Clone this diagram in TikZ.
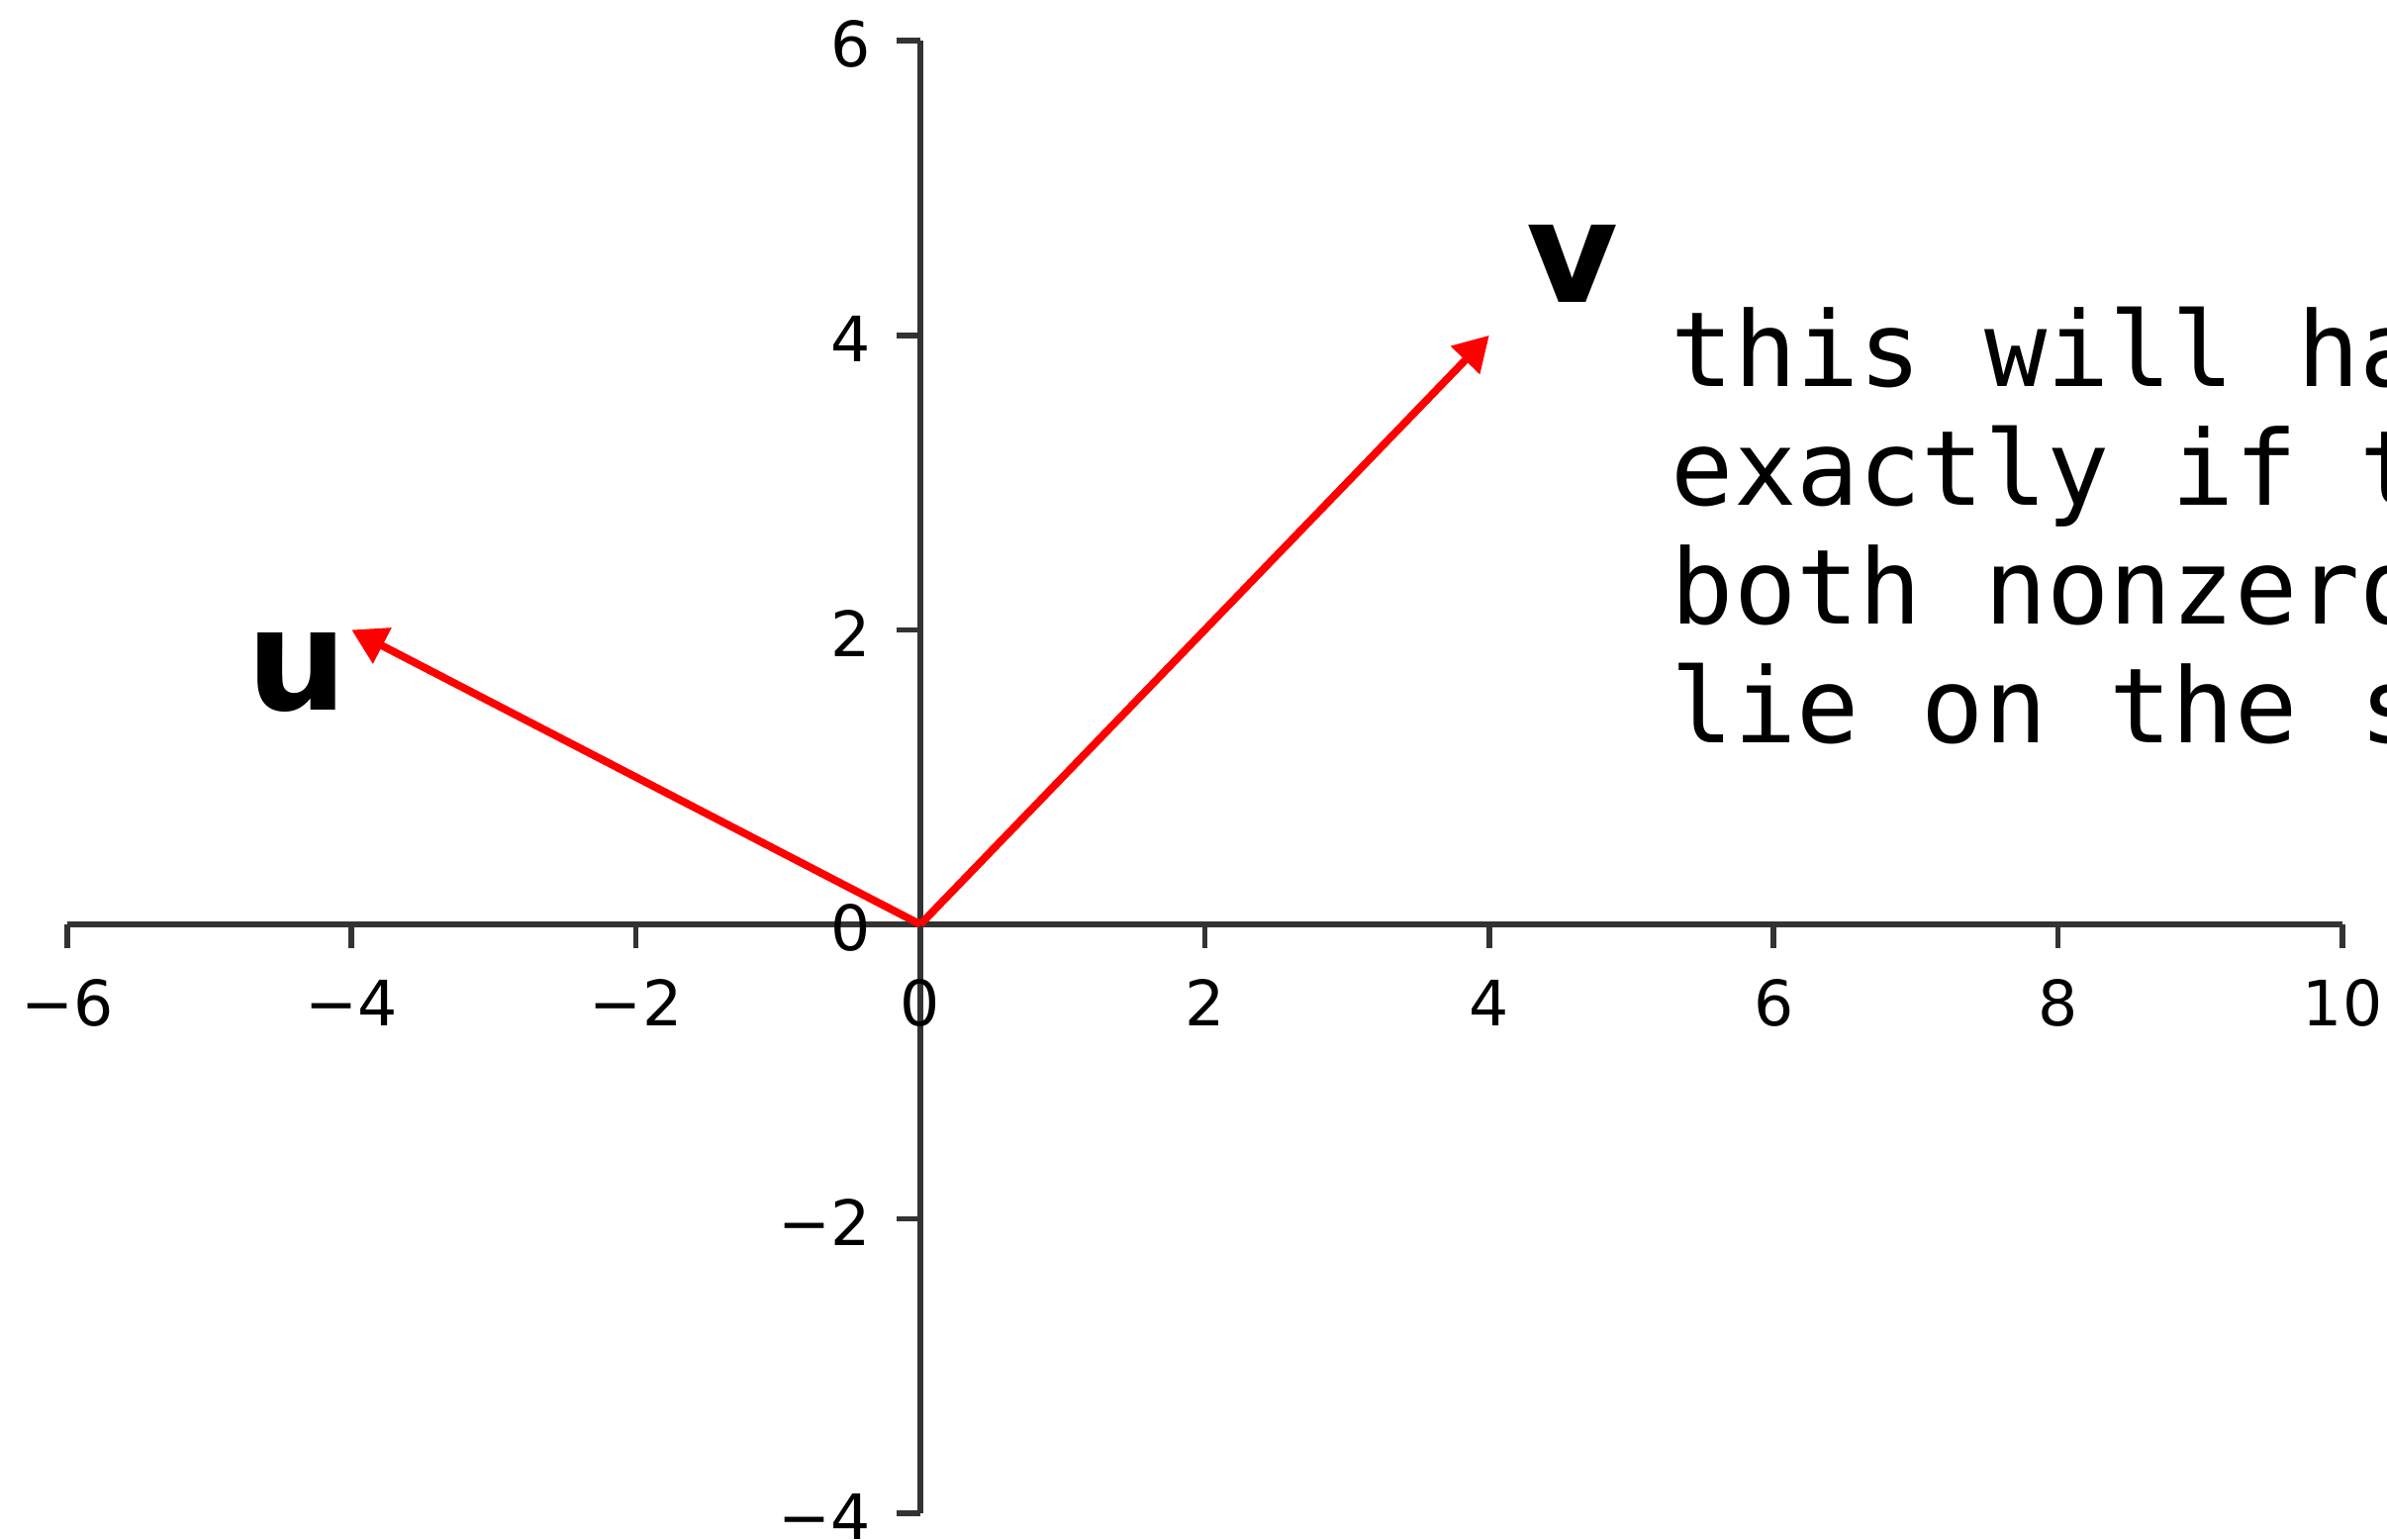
\documentclass[tikz,border=0pt]{standalone}
\usepackage{fontspec}
\setmainfont{DejaVu Sans}
\newfontfamily\codefont{DejaVu Sans Mono}
\usetikzlibrary{arrows.meta}
\definecolor{veccol}{HTML}{FF0000}
\definecolor{axiscol}{HTML}{333333}

\begin{document}
\begin{tikzpicture}[
  x=1.437cm, y=1.488cm,
  >={Triangle[length=0.35cm,width=0.39cm]},
  spine/.style={axiscol, line width=1.9pt},
  tickmark/.style={axiscol, line width=1.6pt},
  ticklabel/.style={inner sep=0pt, font=\fontsize{18}{22}\selectfont},
  vec/.style={->, veccol, line width=2.2pt},
  veclabel/.style={inner sep=0pt, anchor=base, font=\fontsize{40.6}{48}\selectfont\bfseries}
]
\useasboundingbox (-6.472,-4.180) rectangle (10.313,6.277);
\clip (-6.472,-4.180) rectangle (10.313,6.277);

% axes
\draw[spine] (-6,0) -- (10,0);
\draw[spine] (0,-4) -- (0,6);
\foreach \x/\lab [count=\i] in {-6/−6,-4/−4,-2/−2,0/0,2/2,4/4,6/6,8/8,10/10}{
  \draw[tickmark] (\x,0) -- ++(0,-0.24cm);
  \node[ticklabel, anchor=base] (xt\i) at (\x,-0.692) {\lab};
}
\foreach \y/\lab [count=\i] in {-4/−4,-2/−2,0/0,2/2,4/4,6/6}{
  \draw[tickmark] (0,\y) -- ++(-0.24cm,0);
  \node[ticklabel, anchor=east] (yt\i) at (-0.345,\y-0.025) {\lab};
}

% the two vectors
\coordinate (O) at (0,0);
\coordinate (utip) at (-4,2);
\coordinate (vtip) at (4,4);
\draw[vec] (O) -- (utip);
\draw[vec] (O) -- (vtip);
\node[veclabel] (ulab) at (-4.384,1.458) {u};
\node[veclabel] (vlab) at (4.589,4.227) {v};

% base anchor sits on the last line
\node[inner sep=0pt, anchor=base west, align=left,
  font=\codefont\fontsize{29.9}{34.15}\selectfont] (note) at (5.275,1.230)
  {this will ha\\exactly if t\\both nonzero\\lie on the s};
\end{tikzpicture}
\end{document}
